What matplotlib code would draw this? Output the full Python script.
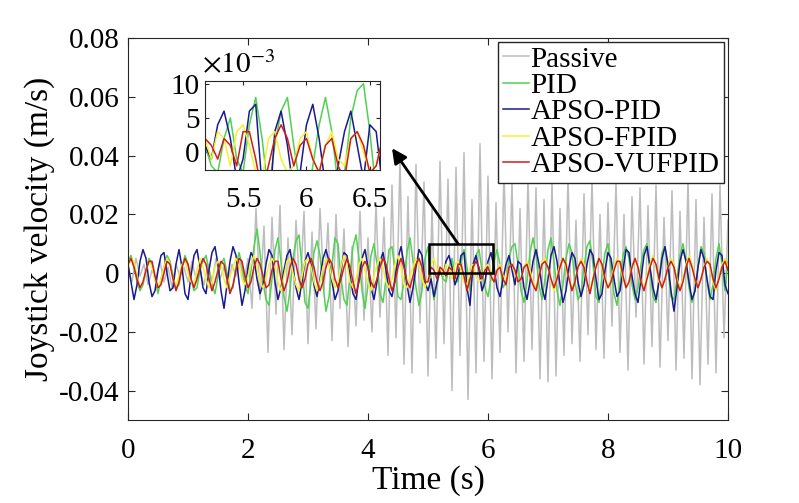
import numpy as np
import matplotlib
matplotlib.use("Agg")
import matplotlib.pyplot as plt
from matplotlib.patches import Rectangle
from matplotlib.ticker import FuncFormatter

# ---------- data (velocities in 1e-3 m/s) ----------
# Passive: sampled every 1/15 s, 0..10 s
passive = [
    2, -3, 5, -1, 3, -4, 1, -2, 4, -3, 2, -5, 3, -1, 2,
    -3, 4, -2, 1, -4, 3, -3, 5, -2, 2, -4, 3, -1, 4, -3,
    5, -12, 22, -9, 16, -27, 19, -14, 23, -26, 12, -21, 18, -8, 21,
    -24, 14, -19, 22, -6, 17, -23, 20, -12, 15, -25, 9, -18, 21, -16,
    12, -20, 24, -15, 19, -28, 30, -22, 39, -31, 26, -34, 37, -17, 31,
    -35, 22, -29, 38, -24, 32, -40, 36, -28, 41, -43, 25, -34, 44, -30,
    33, -36, 24, -27, 35, -20, 31, -34, 22, -30, 33, -26, 29, -36, 25,
    -37, 31, -35, 22, -28, 33, -24, 18, -30, 27, -21, 32, -26, 20, -29,
    24, -18, 31, -27, 20, -33, 26, -15, 29, -31, 23, -25, 30, -32, 19,
    -23, 28, -33, 21, -29, 32, -36, 25, -38, 19, -31, 27, -34, 30, -22,
    18,
]

# controllers: sampled every 0.05 s, 0..10 s
pid = [
    4, 6, 2, -3, -6, -4, 1, 5, 3, -2, -7, -2, 2, 6, 4, -1, -5, -4, 2, 6,
    3, -2, -6, -5, 1, 4, 6, 1, -4, -7, -1, 3, 5, 0, -6, -5, 2, 7, 3, -4,
    -7, 1, 9, 15, 7, -3, -9, -11, -2, 8, 12, 4, -8, -13, -6, 5, 11, 13, 2, -10,
    -12, -3, 7, 11, 6, -4, -13, -8, 3, 12, 10, -2, -9, -11, -1, 9, 13, 5, -6, -12,
    -4, 6, 10, 3, -7, -10, -2, 8, 9, 1, -8, -9, -3, 7, 12, 4, -5, -11, -6, 5,
    9, -2, -9, -4, 1, -2, -3, 2, 5, -1, -3, 4, 8, 2, -6, 1, 6, 8, 1, -5,
    -8, -2, 4, 8, 3, -5, -3, 5, 9, 10, 3, -6, -10, -3, 7, 12, 6, -4, -9, -2,
    8, 12, 4, -6, -11, -4, 5, 10, 7, -3, -9, -7, 2, 9, 11, 3, -8, -10, -1, 7,
    10, 2, -7, -11, -3, 6, 9, 5, -4, -9, -5, 3, 8, 10, 1, -8, -10, -2, 7, 9,
    1, -8, -9, -2, 6, 10, 4, -5, -10, -6, 2, 9, 7, -3, -9, -4, 5, 10, 3, -6,
    4,
]
apso_pid = [
    3, -3, -9, -4, 4, 8, 5, -3, -8, -6, 1, 6, 7, 0, -6, -5, 3, 8, 2, -7,
    -9, -1, 6, 8, 2, -5, -7, 1, 7, 9, 3, -6, -12, -4, 4, 9, 6, -3, -11, -6,
    2, 7, 5, -2, -7, -4, 3, 8, 6, -3, -9, -5, 1, 6, 8, 2, -5, -9, -3, 4,
    7, 3, -4, -8, -2, 5, 8, 4, -3, -9, -6, 1, 7, 6, -1, -7, -9, -2, 5, 8,
    2, -5, -9, -3, 4, 7, 1, -6, -8, -2, 5, 9, 3, -4, -10, -5, 2, 8, 6, -3,
    -6, -2, -8, -3, 1, -1, 4, 6, 2, -4, -1, 6, 7, -5, -11, 3, 6, 1, -6, -3,
    4, 7, 2, -5, -8, -2, 3, 6, 1, -4, 4, 3, -5, -9, -3, 4, 8, 3, -5, -9,
    -2, 6, 9, 4, -4, -10, -6, 2, 7, 5, -3, -8, -4, 3, 8, 6, -2, -9, -7, 1,
    7, 5, -2, -8, -6, 1, 8, 7, -1, -7, -10, -2, 6, 9, 2, -5, -9, -3, 5, 9,
    3, -6, -13, -5, 4, 8, 4, -3, -9, -6, 2, 8, 5, -2, -8, -9, 1, 7, 6, -4,
    -7,
]
apso_fpid = [
    2, 5, 4, -1, -5, -3, 1, 4, 2, -2, -5, -2, 2, 5, 3, -2, -4, -1, 3, 4,
    0, -3, -4, 1, 5, 2, -2, -5, -3, 2, 4, 3, -2, -5, -1, 2, 5, 3, -2, -4,
    -1, 3, 6, 2, -3, -5, -2, 3, 5, 3, -3, -6, -1, 4, 5, 0, -4, -6, -1, 4,
    5, 2, -3, -6, -3, 2, 5, 3, -2, -5, -3, 2, 6, 3, -3, -5, -2, 3, 5, 1,
    -3, -6, -1, 3, 5, 2, -3, -5, -2, 3, 6, 2, -4, -5, -1, 2, 5, 3, -2, -5,
    -2, 3, 5, 1, 2, -1, 3, 2, -2, 3, 4, 1, -3, -4, 2, 3, -1, -3, -2, 2,
    3, -1, -3, 1, 3, -1, -2, 2, 3, 0, -3, -2, 2, 4, 1, -3, -5, -1, 4, 5,
    2, -3, -6, -1, 3, 5, 2, -2, -5, -3, 2, 5, 3, -3, -6, -2, 3, 5, 2, -3,
    -5, -2, 2, 5, 3, -2, -5, -3, 3, 5, 2, -3, -5, -1, 3, 6, 2, -3, -5, -2,
    2, 5, 3, -2, -5, -2, 3, 6, 3, -2, -5, -2, 2, 5, 2, -3, -6, -1, 3, 5,
    2,
]
apso_vufpid = [
    3, 5, 2, -2, -5, -3, 1, 4, 4, -1, -5, -4, 0, 4, 3, -2, -6, -3, 2, 5,
    3, -2, -5, -2, 2, 5, 3, -2, -6, -3, 1, 4, 3, -2, -7, -4, 1, 5, 4, -1,
    -5, -3, 2, 5, 3, -1, -5, -4, 1, 4, 4, -2, -6, -3, 2, 5, 3, -2, -5, -2,
    3, 5, 2, -3, -6, -3, 2, 5, 3, -2, -5, -2, 2, 5, 2, -3, -7, -3, 2, 4,
    2, -3, -5, -2, 2, 5, 3, -2, -6, -3, 2, 5, 2, -3, -5, -1, 3, 5, 2, -3,
    -3, 2, 1, -2, 2, 1, -1, 2, 1, -2, 3, 3, -1, -6, -2, 2, 4, 2, -2, 1,
    2, -1, -3, 1, 2, -2, -4, 2, 3, 1, -3, -2, 2, 3, -1, -4, -6, -1, 3, 4,
    2, -2, -5, -2, 2, 5, 3, -2, -6, -3, 2, 4, 2, -3, -7, -2, 2, 5, 3, -2,
    -5, -3, 1, 4, 4, -1, -5, -3, 2, 5, 2, -3, -6, -2, 2, 5, 3, -2, -5, -2,
    2, 4, 2, -3, -6, -3, 2, 5, 2, -2, -5, -2, 2, 4, 3, -2, -5, -2, 2, 4,
    1,
]

LABELS = ["Passive", "PID", "APSO-PID", "APSO-FPID", "APSO-VUFPID"]
COLORS = ["#bdbdbd", "#4fd24f", "#1a1a90", "#f2f230", "#d01c1c"]

t_passive = np.linspace(0, 10, len(passive))
t_ctrl = np.linspace(0, 10, len(pid))
series = [
    (t_passive, np.array(passive) * 1e-3),
    (t_ctrl, np.array(pid) * 1e-3),
    (t_ctrl, np.array(apso_pid) * 1e-3),
    (t_ctrl, np.array(apso_fpid) * 1e-3),
    (t_ctrl, np.array(apso_vufpid) * 1e-3),
]

# ---------- style ----------
plt.rcParams['font.family'] = 'Liberation Serif'
plt.rcParams['mathtext.fontset'] = 'stix'
plt.rcParams['axes.unicode_minus'] = False
TICK_FS = 21
LABEL_FS = 24
AX_COLOR = '#262626'

fig = plt.figure(figsize=(7.99, 5.03), dpi=100)
ax = fig.add_axes([128 / 799, 83 / 503, 600 / 799, 382 / 503])

for (t, v), lab, col in zip(series, LABELS, COLORS):
    ax.plot(t, v, color=col, lw=1.1, label=lab)

ax.set_xlim(0, 10)
ax.set_ylim(-0.05, 0.08)
ax.set_xticks(np.arange(0, 11, 2))
ax.set_yticks(np.arange(-0.04, 0.081, 0.02))
ax.yaxis.set_major_formatter(FuncFormatter(lambda v, p: f"{round(v, 4):g}"))
ax.tick_params(direction='in', top=True, right=True, length=5, width=0.8,
               labelsize=TICK_FS, colors=AX_COLOR, labelcolor='black')
ax.tick_params(axis='x', pad=13)
ax.tick_params(axis='y', pad=6)
for s in ax.spines.values():
    s.set_color(AX_COLOR)
    s.set_linewidth(0.8)

ax.set_xlabel('Time (s)', fontsize=LABEL_FS, labelpad=1)
ax.set_ylabel('Joystick velocity (m/s)', fontsize=LABEL_FS, labelpad=3)

ax.legend(loc='upper right', bbox_to_anchor=(0.993, 0.99), borderaxespad=0,
          fontsize=TICK_FS, handlelength=0.9, handletextpad=0.05,
          labelspacing=0.0, borderpad=0.15, fancybox=False,
          edgecolor=AX_COLOR, framealpha=1.0)

# zoom box and arrow
ax.add_patch(Rectangle((5.02, 0.0), 1.06, 0.0099, fill=False,
                       edgecolor='black', lw=1.8, zorder=5))
ax.annotate('', xy=(4.4, 0.0425), xytext=(5.5, 0.0100),
            arrowprops=dict(arrowstyle='-|>', color='black', lw=2.0,
                            mutation_scale=22, shrinkA=0, shrinkB=0),
            zorder=6)

# ---------- inset ----------
axi = fig.add_axes([205 / 799, 333 / 503, 175 / 799, 89 / 503])
for (t, v), lab, col in list(zip(series, LABELS, COLORS))[1:]:
    axi.plot(t, v, color=col, lw=1.1)
axi.set_xlim(5.2, 6.58)
axi.set_ylim(-0.0026, 0.0104)
axi.set_xticks([5.5, 6, 6.5])
axi.set_yticks([0, 0.005, 0.01])
axi.xaxis.set_major_formatter(FuncFormatter(lambda v, p: f"{v:g}"))
axi.yaxis.set_major_formatter(FuncFormatter(lambda v, p: f"{v * 1e3:g}"))
axi.tick_params(direction='in', top=True, right=True, length=3, width=0.8,
                labelsize=TICK_FS, colors=AX_COLOR, labelcolor='black')
axi.tick_params(axis='x', pad=12)
axi.tick_params(axis='y', pad=4)
for s in axi.spines.values():
    s.set_color(AX_COLOR)
    s.set_linewidth(0.8)
axi.text(-0.02, 1.02, r'$\times10^{-3}$', transform=axi.transAxes,
         fontsize=TICK_FS, ha='left', va='bottom')

fig.savefig('out.png', dpi=100, facecolor='white')
